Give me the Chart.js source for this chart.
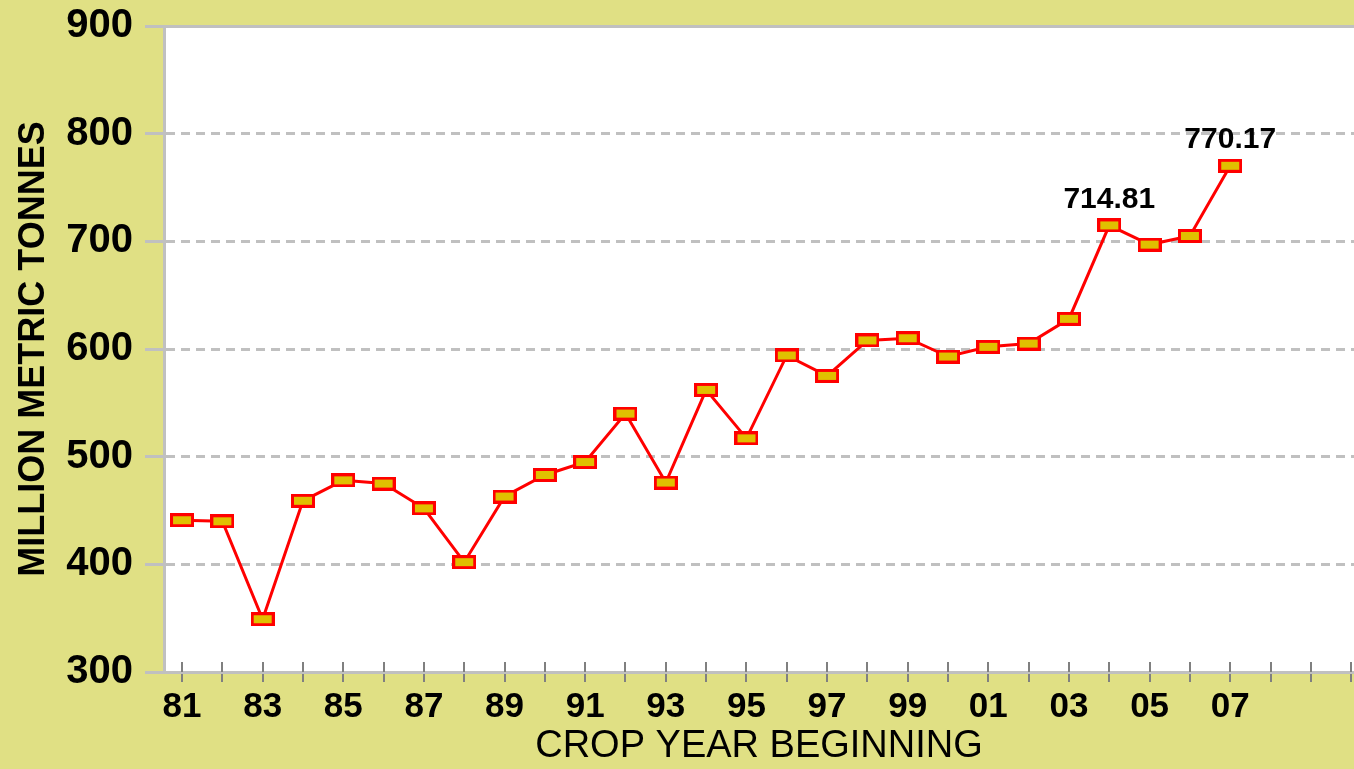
<!DOCTYPE html>
<html>
<head>
<meta charset="utf-8">
<script src="https://cdn.jsdelivr.net/npm/chart.js@4"></script>
<style>
  html, body { margin: 0; overflow: hidden; background: #e0e084; }
  #wrap { width: 1354px; height: 769px; position: relative; }
</style>
</head>
<body>
<div id="wrap"><canvas id="cropChart"></canvas></div>
<script>
const years = [1981, 1982, 1983, 1984, 1985, 1986, 1987, 1988, 1989, 1990, 1991, 1992, 1993, 1994,
  1995, 1996, 1997, 1998, 1999, 2000, 2001, 2002, 2003, 2004, 2005, 2006, 2007];
const production = [441, 440, 349, 459, 478, 475, 452, 402, 463, 483, 495, 540, 476, 562,
  517, 594, 575, 608, 610, 593, 602, 605, 628, 714.81, 697, 705, 770.17];
const tickYears = [1981, 1982, 1983, 1984, 1985, 1986, 1987, 1988, 1989, 1990, 1991, 1992, 1993, 1994, 1995,
  1996, 1997, 1998, 1999, 2000, 2001, 2002, 2003, 2004, 2005, 2006, 2007, 2008, 2009, 2010];
const labelledYears = [1981, 1983, 1985, 1987, 1989, 1991, 1993, 1995, 1997, 1999, 2001, 2003, 2005, 2007];
const valueLabelYears = [2004, 2007];
const yTicks = [300, 400, 500, 600, 700, 800, 900];

// yellow box marker
const marker = document.createElement('canvas');
marker.width = 24;
marker.height = 14;
const mctx = marker.getContext('2d');
mctx.fillStyle = '#ff0000';
mctx.fillRect(0, 0, 24, 14);
mctx.fillStyle = '#e0c000';
mctx.fillRect(3, 3, 18, 8);

const backgroundPlugin = {
  id: 'bg',
  beforeDraw(chart) {
    const { ctx, chartArea } = chart;
    ctx.save();
    ctx.fillStyle = '#e0e084';
    ctx.fillRect(0, 0, chart.width, chart.height);
    ctx.fillStyle = '#ffffff';
    ctx.fillRect(chartArea.left, chartArea.top, chartArea.right - chartArea.left, chartArea.bottom - chartArea.top);
    ctx.restore();
  }
};

// tick marks that stick up into the plot
const innerTicks = {
  id: 'innerTicks',
  afterDatasetsDraw(chart) {
    const { ctx, chartArea, scales } = chart;
    ctx.save();
    ctx.strokeStyle = '#808080';
    ctx.lineWidth = 2;
    scales.x.ticks.forEach(function (t) {
      const x = Math.round(scales.x.getPixelForValue(t.value));
      ctx.beginPath();
      ctx.moveTo(x, chartArea.bottom - 10);
      ctx.lineTo(x, chartArea.bottom);
      ctx.stroke();
    });
    ctx.restore();
  }
};

const valueLabels = {
  id: 'valueLabels',
  afterDatasetsDraw(chart) {
    const { ctx } = chart;
    const meta = chart.getDatasetMeta(0);
    ctx.save();
    ctx.font = 'bold 30px "Liberation Sans", Arial, sans-serif';
    ctx.fillStyle = '#000000';
    ctx.textAlign = 'center';
    ctx.textBaseline = 'middle';
    valueLabelYears.forEach(function (yr) {
      const i = years.indexOf(yr);
      const pt = meta.data[i];
      ctx.fillText(production[i].toFixed(2), pt.x, pt.y - 26);
    });
    ctx.restore();
  }
};

new Chart(document.getElementById('cropChart'), {
  type: 'line',
  data: {
    datasets: [{
      data: years.map((y, i) => ({ x: y, y: production[i] })),
      borderColor: '#ff0000',
      borderWidth: 3,
      tension: 0,
      fill: false,
      pointStyle: marker,
      pointRadius: 7
    }]
  },
  options: {
    responsive: true,
    maintainAspectRatio: false,
    animation: false,
    layout: { autoPadding: false, padding: { top: 26, right: 0, left: 0, bottom: 0 } },
    plugins: {
      legend: { display: false },
      tooltip: { enabled: false }
    },
    scales: {
      x: {
        type: 'linear',
        min: 1980.553,
        max: 2010.07,
        afterBuildTicks(scale) {
          scale.ticks = tickYears.map(v => ({ value: v }));
        },
        afterFit(scale) {
          scale.height = 97;
          scale.paddingLeft = 0;
          scale.paddingRight = 0;
        },
        ticks: {
          autoSkip: false,
          maxRotation: 0,
          padding: 4,
          color: '#000000',
          font: { family: '"Liberation Sans", Arial, sans-serif', size: 35, weight: 'bold' },
          callback: v => labelledYears.includes(v) ? String(v).slice(2) : ''
        },
        grid: {
          display: true,
          drawOnChartArea: false,
          drawTicks: true,
          tickLength: 10,
          color: '#808080',
          lineWidth: 2
        },
        border: { display: true, color: '#c0c0c0', width: 3 },
        title: {
          display: true,
          text: 'CROP YEAR BEGINNING',
          color: '#000000',
          padding: { top: 0, bottom: 0 },
          font: { family: '"Liberation Sans", Arial, sans-serif', size: 38, weight: 'normal' }
        }
      },
      y: {
        min: 300,
        max: 900,
        afterBuildTicks(scale) {
          scale.ticks = yTicks.map(v => ({ value: v }));
        },
        afterFit(scale) {
          scale.width = 164;
          scale.paddingTop = 0;
          scale.paddingBottom = 0;
        },
        ticks: {
          padding: 12,
          color: '#000000',
          font: { family: '"Liberation Sans", Arial, sans-serif', size: 40, weight: 'bold' }
        },
        grid: {
          color: '#c0c0c0',
          lineWidth: 3,
          tickLength: 19,
          tickColor: '#c0c0c0',
          tickWidth: 3
        },
        border: {
          display: true,
          color: '#c0c0c0',
          width: 3,
          dash: ctx => (ctx.tick && ctx.tick.value === 900) ? [] : [9, 6]
        },
        title: {
          display: true,
          text: 'MILLION METRIC TONNES',
          color: '#000000',
          padding: { top: 12, bottom: 0 },
          font: { family: '"Liberation Sans", Arial, sans-serif', size: 36, weight: 'bold' }
        }
      }
    }
  },
  plugins: [backgroundPlugin, innerTicks, valueLabels]
});
</script>
</body>
</html>
